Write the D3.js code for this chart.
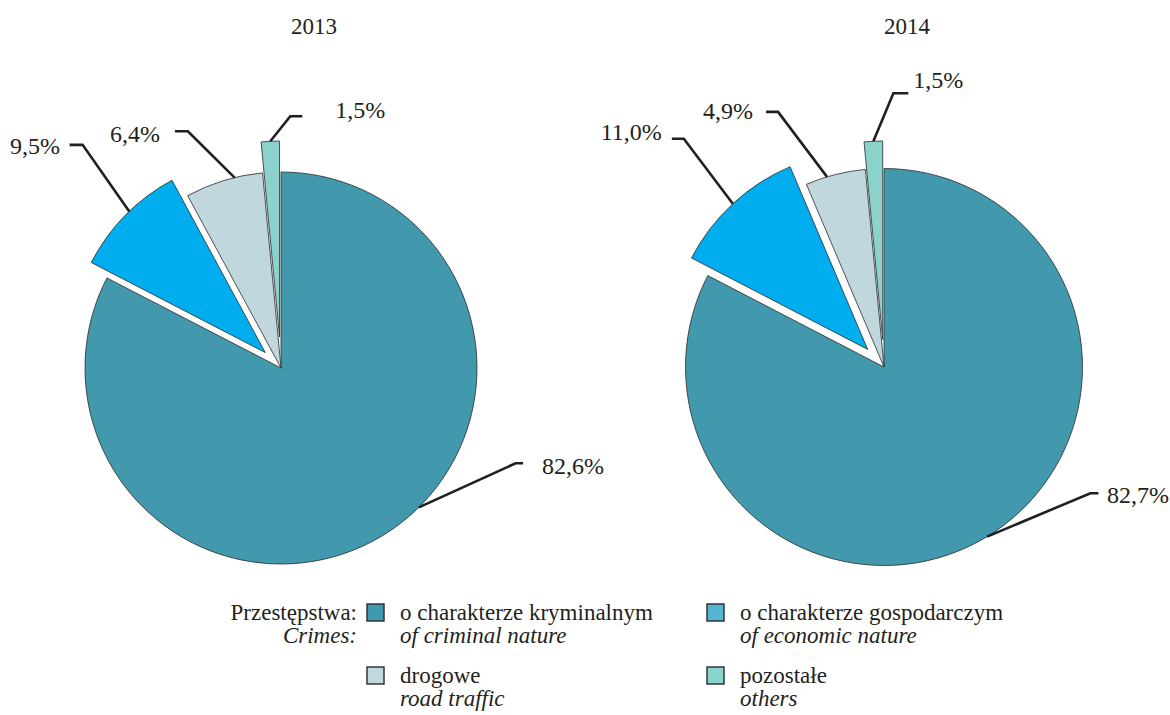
<!DOCTYPE html>
<html>
<head>
<meta charset="utf-8">
<script src="https://cdn.jsdelivr.net/npm/d3@7"></script>
<style>
  html, body { margin: 0; padding: 0; background: #fff; }
  svg { display: block; }
</style>
</head>
<body>
<svg id="chart" width="1170" height="715"></svg>
<script>
// ---- data ----
const categories = ["o charakterze kryminalnym", "o charakterze gospodarczym", "drogowe", "pozostałe"];
const categoriesEn = ["of criminal nature", "of economic nature", "road traffic", "others"];
const years = ["2013", "2014"];
const values2013 = [82.6, 9.5, 6.4, 1.5];
const values2014 = [82.7, 11.0, 4.9, 1.5];
const legendTitle = "Przestępstwa:";
const legendTitleEn = "Crimes:";

// ---- style / layout ----
const sliceColors = ["#4299ae", "#00adee", "#bfd7dd", "#8bd2cd"];
const swatchColors = ["#3f9aae", "#55b6d3", "#c0d8de", "#8bd3cf"];
const FS_TITLE = 23, FS_LABEL = 24, FS_LEG = 23;
const FONT = "'Liberation Serif', 'Times New Roman', Times, serif";

const pies = [
  { year: years[0], values: values2013, cx: 281, cy: 368, r: 196, titleX: 314,
    explode: [0, 22, 0, 31],
    anchorFrac: [0.455, 0.547, 0.64, 0.5],
    elbow: [[96.7, -44], [-46.7, -66.6], [-46.7, -46.3], [20, -25]],
    tail: [7.5, -13, -13, 12],
    textOff: [[19, 11], [-9.7, 9.3], [-15, 11], [33, 1.3]] },
  { year: years[1], values: values2014, cx: 884, cy: 367, r: 198.5, titleX: 907,
    explode: [0, 24, 0, 27.5],
    anchorFrac: [0.5, 0.5, 0.36, 0.5],
    elbow: [[103.3, -43.4], [-49, -65], [-49, -65], [20, -48]],
    tail: [8, -12, -12, 15],
    textOff: [[8.7, 10], [-10, 1.5], [-13, 7.6], [5, -5.6]] }
];

const locale = d3.formatLocale({ decimal: ",", thousands: " ", grouping: [3], currency: ["", " zł"] });
const fmt = v => locale.format(".1f")(v) + "%";

const svg = d3.select("#chart")
  .attr("font-family", FONT)
  .style("font-family", FONT);
const pieGen = d3.pie().sort(null).value(d => d);

function txt(sel, fs) {
  return sel.append("text")
    .attr("font-family", FONT)
    .style("font-family", FONT)
    .attr("font-size", fs)
    .attr("fill", "#231f20");
}

pies.forEach(p => {
  const arcs = pieGen(p.values);
  const arcGen = d3.arc().innerRadius(0).outerRadius(p.r);
  const g = svg.append("g").attr("transform", `translate(${p.cx},${p.cy})`);

  txt(svg, FS_TITLE).attr("x", p.titleX).attr("y", 34)
    .attr("text-anchor", "middle")
    .text(p.year);

  arcs.forEach((a, i) => {
    const mid = (a.startAngle + a.endAngle) / 2;
    const off = p.explode[i];
    const ox = Math.sin(mid) * off, oy = -Math.cos(mid) * off;
    g.append("path")
      .attr("d", arcGen(a))
      .attr("transform", `translate(${ox},${oy})`)
      .attr("fill", sliceColors[i])
      .attr("stroke", "#2a2a2a")
      .attr("stroke-width", 0.8);
  });

  arcs.forEach((a, i) => {
    const mid = (a.startAngle + a.endAngle) / 2;
    const off = p.explode[i];
    const ang = a.startAngle + (a.endAngle - a.startAngle) * p.anchorFrac[i];
    const x0 = Math.sin(mid) * off + Math.sin(ang) * p.r;
    const y0 = -Math.cos(mid) * off - Math.cos(ang) * p.r;
    const x1 = x0 + p.elbow[i][0], y1 = y0 + p.elbow[i][1];
    const x2 = x1 + p.tail[i];
    g.append("path")
      .attr("d", d3.line()([[x0, y0], [x1, y1], [x2, y1]]))
      .attr("fill", "none")
      .attr("stroke", "#231f20")
      .attr("stroke-width", 2.6);
    const right = p.tail[i] < 0;
    txt(g, FS_LABEL)
      .attr("x", x2 + p.textOff[i][0])
      .attr("y", y1 + p.textOff[i][1])
      .attr("text-anchor", right ? "end" : "start")
      .text(fmt(a.data));
  });
});

// ---- legend ----
const leg = svg.append("g");
txt(leg, FS_LEG).attr("x", 357).attr("y", 620).attr("text-anchor", "end").text(legendTitle);
txt(leg, FS_LEG).attr("x", 357).attr("y", 643).attr("text-anchor", "end")
  .attr("font-style", "italic").text(legendTitleEn);

const colX = [367, 707];
const rowY = [604, 667];
categories.forEach((c, i) => {
  const col = i % 2, row = Math.floor(i / 2);
  const x = colX[col], y = rowY[row];
  leg.append("rect")
    .attr("x", x).attr("y", y).attr("width", 17).attr("height", 17)
    .attr("fill", swatchColors[i])
    .attr("stroke", "#2a2a2a").attr("stroke-width", 1.4);
  txt(leg, FS_LEG).attr("x", x + 33).attr("y", y + 16).text(c);
  txt(leg, FS_LEG).attr("x", x + 33).attr("y", y + 39)
    .attr("font-style", "italic").text(categoriesEn[i]);
});
</script>
</body>
</html>
